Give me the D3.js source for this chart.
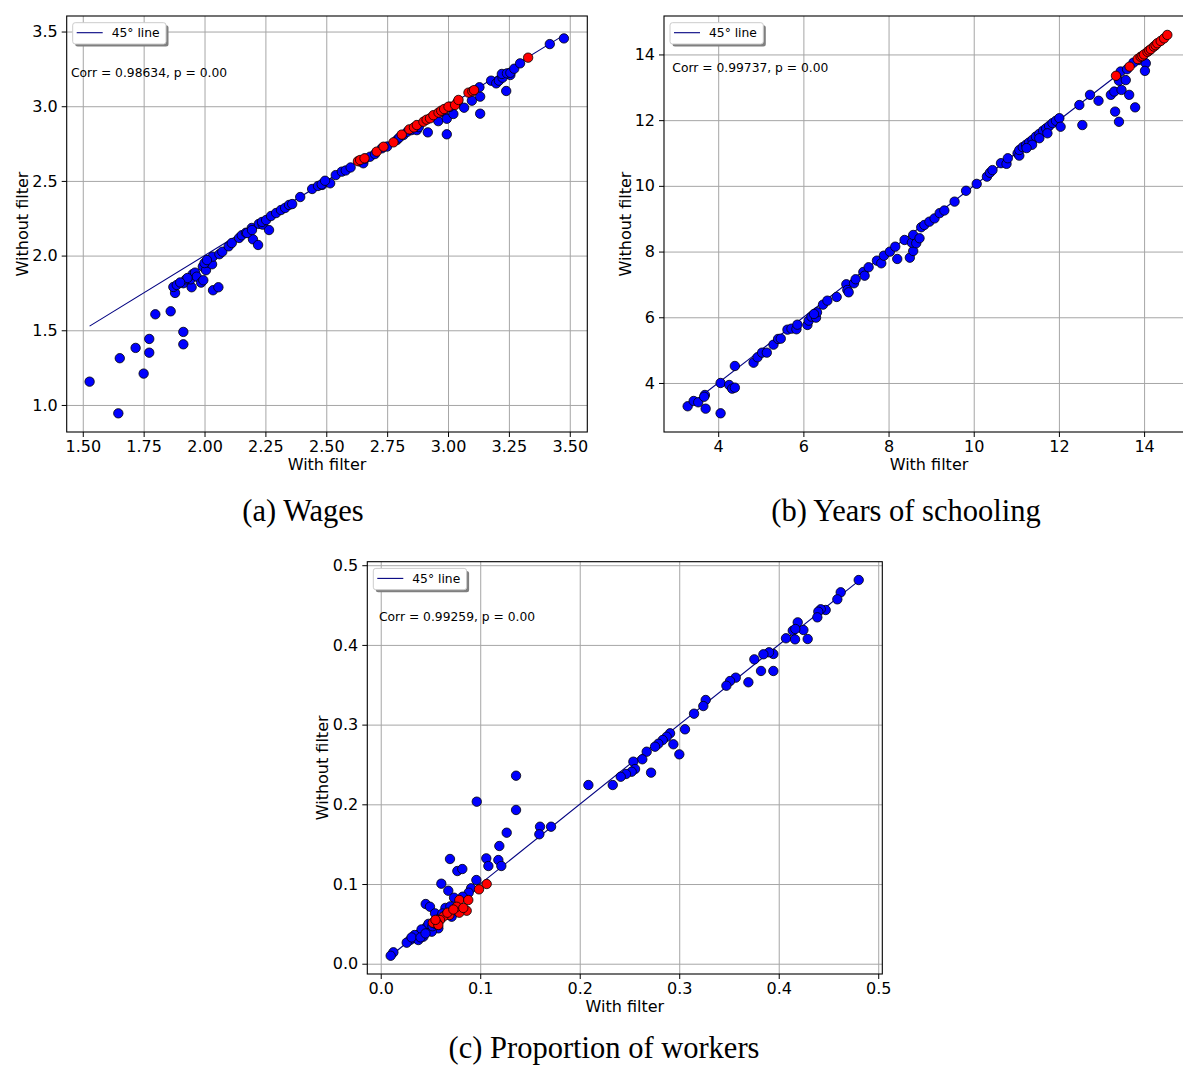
<!DOCTYPE html>
<html>
<head>
<meta charset="utf-8">
<script src="https://cdn.jsdelivr.net/npm/d3@7"></script>
<style>
body { margin: 0; background: #fff; }
svg text { font-family: "DejaVu Sans", sans-serif; }
.caption { font-family: "Liberation Serif", serif; }
</style>
</head>
<body>
<svg id="fig" width="1183" height="1066"></svg>
<script>
// ---- data: [with filter, without filter] ----
var wagesBlue = [
  [1.528,1.156],[1.646,0.944],[1.652,1.313],[1.717,1.382],[1.750,1.210],[1.773,1.442],[1.773,1.350],
  [1.798,1.607],[1.861,1.627],[1.913,1.489],[1.913,1.406],[2.035,1.768],[2.057,1.788],[1.879,1.750],
  [1.872,1.790],[1.886,1.803],[1.913,1.815],[1.924,1.841],[1.947,1.788],[1.943,1.841],[1.951,1.875],
  [1.961,1.886],[1.968,1.859],[1.986,1.819],[1.995,1.835],[1.993,1.926],[2.006,1.902],[2.017,1.952],
  [2.031,1.942],[2.034,1.993],[2.061,2.009],[2.073,2.026],[2.099,2.062],[2.112,2.084],[2.142,2.118],
  [2.153,2.136],[2.170,2.153],[2.194,2.185],[2.199,2.109],[2.220,2.071],[2.223,2.212],[2.239,2.207],
  [2.265,2.171],[2.000,1.950],[2.010,1.970],[1.930,1.850],[1.900,1.820],
  [2.175,2.151],[2.195,2.171],[2.236,2.225],[2.253,2.238],[2.273,2.265],[2.294,2.285],[2.314,2.305],
  [2.331,2.319],[2.347,2.339],[2.360,2.345],[2.393,2.392],[2.442,2.446],[2.466,2.466],[2.483,2.473],
  [2.481,2.477],[2.516,2.484],[2.495,2.501],[2.539,2.539],[2.564,2.562],[2.580,2.570],[2.600,2.590],
  [2.640,2.630],[2.652,2.618],[2.660,2.650],[2.680,2.662],[2.700,2.680],[2.728,2.718],[2.750,2.730],
  [2.790,2.774],[2.800,2.790],[2.817,2.807],[2.833,2.829],[2.850,2.840],[2.872,2.840],[2.880,2.860],
  [2.917,2.825],[2.940,2.930],[2.960,2.900],[2.980,2.960],[2.995,2.812],[2.995,2.916],[3.022,2.948],
  [3.009,2.997],[3.040,3.030],[3.066,2.990],[3.098,3.037],[3.132,3.064],[3.132,2.950],[3.129,3.127],
  [3.239,3.102],[3.177,3.171],[3.198,3.153],[3.209,3.171],[3.256,3.209],[3.224,3.191],[3.221,3.216],
  [3.242,3.220],[3.256,3.224],[3.272,3.251],[3.296,3.287],[3.418,3.416],[3.476,3.454]
];
var wagesRed = [
  [2.630,2.632],[2.639,2.640],[2.657,2.651],[2.707,2.696],[2.735,2.729],[2.776,2.758],[2.810,2.810],
  [2.841,2.845],[2.860,2.858],[2.872,2.874],[2.899,2.896],[2.912,2.910],[2.926,2.919],[2.940,2.940],
  [2.961,2.957],[2.972,2.970],[2.984,2.981],[3.002,2.997],[3.029,3.008],[3.043,3.042],[3.084,3.091],
  [3.100,3.100],[3.107,3.108],[3.329,3.325]
];

var schoolBlue = [
  [3.283,3.291],[3.424,3.452],[3.531,3.412],[3.688,3.635],[3.670,3.580],[3.705,3.218],[4.056,3.077],
  [4.056,4.000],[4.258,3.939],[4.328,3.827],[4.391,3.858],[4.391,4.517],[4.830,4.618],[4.923,4.782],
  [5.031,4.923],[5.141,4.923],[5.298,5.166],[5.406,5.340],[5.469,5.349],[5.626,5.623],[5.720,5.653],
  [5.837,5.635],[5.860,5.775],[6.095,5.766],[6.126,5.897],[6.189,6.019],[6.297,5.988],[6.320,6.152],
  [6.250,6.100],[6.461,6.384],[6.564,6.506],[6.782,6.618],[7.009,7.004],[7.032,6.831],[7.063,6.760],
  [7.188,7.035],[7.227,7.157],[7.408,7.379],[7.438,7.266],[7.532,7.522],[7.727,7.723],[7.829,7.643],
  [7.891,7.875],[8.031,7.997],[8.157,8.149],[8.204,7.775],[8.376,8.353],[8.500,7.814],[8.579,8.018],
  [8.547,8.271],[8.579,8.505],[8.650,8.253],[8.767,8.740],[8.727,8.405],[8.840,8.810],[8.960,8.910],
  [9.080,9.010],[9.200,9.170],[9.310,9.250],[9.550,9.520],[9.820,9.850],[10.070,10.060],[10.310,10.280],
  [10.380,10.400],[10.440,10.480],[10.640,10.690],[10.770,10.670],[10.800,10.840],[11.030,10.990],
  [11.070,10.920],[11.070,11.090],[11.150,11.180],[11.230,11.250],[11.300,11.320],[11.380,11.400],
  [11.460,11.500],[11.540,11.580],[11.630,11.680],[11.700,11.750],[11.770,11.820],[11.850,11.910],
  [11.930,11.980],[12.010,12.060],[12.040,11.800],[11.730,11.600],[11.540,11.450],[11.370,11.250],
  [11.240,11.150],[12.480,12.460],[12.550,11.850],[12.730,12.770],[12.930,12.590],[13.220,12.770],
  [13.300,12.870],[13.320,12.260],[13.410,11.950],[13.470,12.920],[13.650,12.770],[13.790,12.390],
  [13.410,13.200],[13.570,13.220],[13.450,13.480],[13.880,13.830],[14.040,13.730],[14.020,13.500],
  [13.600,13.550],[13.750,13.750]
];
var schoolRed = [
  [13.340,13.350],[13.660,13.630],[13.850,13.860],[13.920,13.930],[13.960,13.950],[14.000,14.000],
  [14.080,14.080],[14.120,14.120],[14.160,14.160],[14.230,14.240],[14.270,14.280],[14.310,14.340],
  [14.390,14.410],[14.470,14.490],[14.546,14.594]
];

var workersBlue = [
  [0.4804,0.4814],[0.4623,0.4660],[0.4589,0.4572],[0.4472,0.4438],[0.4422,0.4447],[0.4398,0.4417],
  [0.4388,0.4346],[0.4191,0.4283],[0.4248,0.4187],[0.4141,0.4178],[0.4167,0.4200],[0.4073,0.4083],
  [0.4164,0.4070],[0.4291,0.4074],[0.3946,0.3886],[0.3903,0.3907],[0.3846,0.3882],[0.3755,0.3819],
  [0.3822,0.3673],[0.3946,0.3673],[0.3695,0.3531],[0.3568,0.3589],[0.3511,0.3547],[0.3474,0.3488],
  [0.3266,0.3309],[0.3242,0.3233],[0.3149,0.3137],[0.3058,0.2941],[0.2908,0.2891],[0.2874,0.2848],
  [0.2834,0.2807],[0.2941,0.2753],[0.2790,0.2760],[0.2757,0.2723],[0.3001,0.2627],[0.2673,0.2660],
  [0.2629,0.2565],[0.2539,0.2535],[0.2717,0.2397],[0.2556,0.2443],[0.2522,0.2409],[0.2465,0.2380],
  [0.2412,0.2346],[0.2332,0.2242],[0.2087,0.2242],
  [0.1360,0.2359],[0.0965,0.2033],[0.1360,0.1929],[0.1266,0.1644],[0.1601,0.1719],[0.1594,0.1624],
  [0.1712,0.1719],[0.1192,0.1477],[0.1182,0.1301],[0.1212,0.1226],[0.1061,0.1322],[0.1082,0.1226],
  [0.0696,0.1314],[0.0770,0.1163],[0.0820,0.1188],[0.0609,0.1004],[0.0679,0.0916],[0.0961,0.1050],
  [0.0908,0.0946],[0.0884,0.0891],[0.0452,0.0749],[0.0495,0.0715],[0.0546,0.0632],[0.0737,0.0828],
  [0.0824,0.0841],[0.0713,0.0590],[0.0462,0.0464],[0.0445,0.0402],[0.0395,0.0381],[0.0362,0.0348],
  [0.0328,0.0319],[0.0294,0.0297],[0.0261,0.0264],[0.0378,0.0297],[0.0428,0.0339],[0.0579,0.0444],
  [0.0513,0.0402],[0.0127,0.0143],[0.0100,0.0100],[0.0650,0.0700],[0.0700,0.0720],[0.0600,0.0580],
  [0.0480,0.0500],[0.0520,0.0470],[0.0410,0.0430],[0.0340,0.0360],[0.0310,0.0330],[0.0400,0.0330],
  [0.0450,0.0380],[0.0550,0.0500],[0.0620,0.0630],[0.0660,0.0620],[0.0580,0.0540]
];
var workersRed = [
  [0.1065,0.1000],[0.0988,0.0933],[0.0790,0.0799],[0.0880,0.0799],[0.0864,0.0665],[0.0790,0.0640],
  [0.0764,0.0715],[0.0690,0.0611],[0.0629,0.0590],[0.0596,0.0548],[0.0563,0.0514],[0.0523,0.0514],
  [0.0579,0.0486],[0.0670,0.0640],[0.0830,0.0700],[0.0730,0.0680],[0.0550,0.0550]
];

var wagesTicksX = [1.50,1.75,2.00,2.25,2.50,2.75,3.00,3.25,3.50];
var wagesTicksY = [1.0,1.5,2.0,2.5,3.0,3.5];
var schoolTicksX = [4,6,8,10,12,14];
var schoolTicksY = [4,6,8,10,12,14];
var workersTicksX = [0.0,0.1,0.2,0.3,0.4,0.5];
var workersTicksY = [0.0,0.1,0.2,0.3,0.4,0.5];

var corrLabels = ["Corr = 0.98634, p = 0.00", "Corr = 0.99737, p = 0.00", "Corr = 0.99259, p = 0.00"];
var captions = ["(a) Wages", "(b) Years of schooling", "(c) Proportion of workers"];

var svg = d3.select('#fig');
svg.append('rect').attr('width', 1183).attr('height', 1066).attr('fill', '#fff');

var panels = [
  {blue: wagesBlue, red: wagesRed, l: 66.7, r: 587.3, t: 16, b: 432,
   xdom: [1.434, 3.572], ydom: [0.819, 3.604], xt: wagesTicksX, yt: wagesTicksY,
   xf: '.2f', yf: '.1f', corr: corrLabels[0], corrDx: 4.3, corrDy: 60.5,
   cap: captions[0], capX: 303, capY: 521, ylabDx: 39},
  {blue: schoolBlue, red: schoolRed, l: 664, r: 1194, t: 16, b: 432,
   xdom: [2.7274, 15.172], ydom: [2.508, 15.17], xt: schoolTicksX, yt: schoolTicksY,
   xf: 'd', yf: 'd', corr: corrLabels[1], corrDx: 8.3, corrDy: 56,
   cap: captions[1], capX: 906, capY: 521, ylabDx: 33},
  {blue: workersBlue, red: workersRed, l: 367.3, r: 882.3, t: 561.7, b: 974,
   xdom: [-0.0135, 0.5041], ydom: [-0.0129, 0.5044], xt: workersTicksX, yt: workersTicksY,
   xf: '.1f', yf: '.1f', corr: corrLabels[2], corrDx: 11.7, corrDy: 59.8,
   cap: captions[2], capX: 604, capY: 1058, ylabDx: 39}
];

panels.forEach(function(p) {
  var w = p.r - p.l, h = p.b - p.t;
  var x = d3.scaleLinear().domain(p.xdom).range([0, w]);
  var y = d3.scaleLinear().domain(p.ydom).range([h, 0]);
  var g = svg.append('g').attr('transform', 'translate(' + p.l + ',' + p.t + ')');

  // grid
  g.append('g').attr('class', 'grid')
    .attr('transform', 'translate(0,' + h + ')')
    .call(d3.axisBottom(x).tickValues(p.xt).tickSize(-h).tickFormat(''));
  g.append('g').attr('class', 'grid')
    .call(d3.axisLeft(y).tickValues(p.yt).tickSize(-w).tickFormat(''));
  g.selectAll('.grid .domain').remove();
  g.selectAll('.grid line').attr('stroke', '#a6a6a6').attr('stroke-width', 1);

  // 45 degree line over the range of the data
  var all = p.blue.concat(p.red);
  var xe = d3.extent(all, function(d) { return d[0]; });
  g.append('line')
    .attr('x1', x(xe[0])).attr('y1', y(xe[0]))
    .attr('x2', x(xe[1])).attr('y2', y(xe[1]))
    .attr('stroke', '#000080').attr('stroke-width', 1.1);

  // points
  [[p.blue, '#0000ff'], [p.red, '#ff0000']].forEach(function(s) {
    g.append('g').selectAll('circle').data(s[0]).enter().append('circle')
      .attr('cx', function(d) { return x(d[0]); })
      .attr('cy', function(d) { return y(d[1]); })
      .attr('r', 4.7)
      .attr('fill', s[1])
      .attr('stroke', '#000').attr('stroke-width', 0.8);
  });

  // spines
  g.append('rect').attr('width', w).attr('height', h)
    .attr('fill', 'none').attr('stroke', '#000').attr('stroke-width', 1.1);

  // axes
  var ax = g.append('g').attr('transform', 'translate(0,' + h + ')')
    .call(d3.axisBottom(x).tickValues(p.xt).tickSize(5).tickPadding(4)
      .tickFormat(d3.format(p.xf)).tickSizeOuter(0));
  var ay = g.append('g')
    .call(d3.axisLeft(y).tickValues(p.yt).tickSize(5).tickPadding(4)
      .tickFormat(d3.format(p.yf)).tickSizeOuter(0));
  [ax, ay].forEach(function(a) {
    a.select('.domain').remove();
    a.selectAll('text').attr('font-size', 16).attr('fill', '#000')
      .attr('font-family', '"DejaVu Sans", sans-serif');
    a.selectAll('line').attr('stroke', '#000').attr('stroke-width', 1);
  });

  // axis labels
  g.append('text').attr('x', w / 2).attr('y', h + 38)
    .attr('text-anchor', 'middle').attr('font-size', 16).text('With filter');
  g.append('text')
    .attr('transform', 'translate(' + (-p.ylabDx) + ',' + (h / 2) + ') rotate(-90)')
    .attr('text-anchor', 'middle').attr('font-size', 16).text('Without filter');

  // legend with shadow
  var lg = g.append('g').attr('transform', 'translate(6,6.7)');
  lg.append('rect').attr('x', 2.5).attr('y', 2.5).attr('width', 93.3).attr('height', 21.3)
    .attr('rx', 2.5).attr('fill', '#7f7f7f');
  lg.append('rect').attr('width', 93.3).attr('height', 21.3).attr('rx', 2.5)
    .attr('fill', '#fff').attr('stroke', '#cccccc').attr('stroke-width', 1);
  lg.append('line').attr('x1', 4).attr('x2', 30).attr('y1', 10).attr('y2', 10)
    .attr('stroke', '#000080').attr('stroke-width', 1.1);
  lg.append('text').attr('x', 39).attr('y', 14.5).attr('font-size', 12.3).text('45° line');

  // correlation
  g.append('text').attr('x', p.corrDx).attr('y', p.corrDy)
    .attr('font-size', 12.3).text(p.corr);

  // caption
  svg.append('text').attr('class', 'caption')
    .attr('x', p.capX).attr('y', p.capY).attr('text-anchor', 'middle')
    .attr('font-size', 30.5).attr('font-family', '"Liberation Serif", serif')
    .text(p.cap);
});
</script>
</body>
</html>
